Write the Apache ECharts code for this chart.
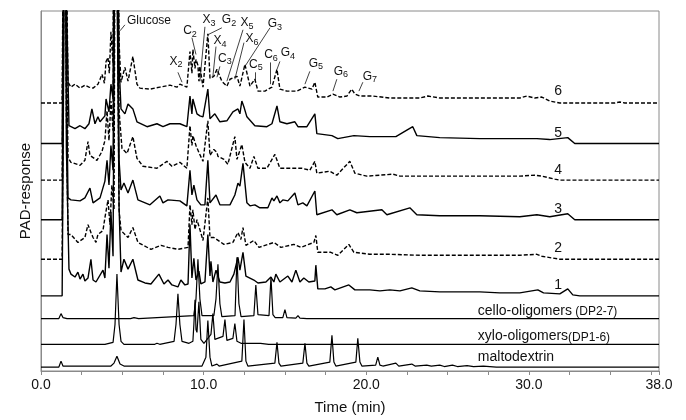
<!DOCTYPE html>
<html>
<head>
<meta charset="utf-8">
<script src="https://cdn.jsdelivr.net/npm/echarts@6/dist/echarts.min.js"></script>
<style>
  html, body { margin: 0; padding: 0; background: #fff; }
  #chart { width: 686px; height: 420px; }
</style>
</head>
<body>
<div id="chart"></div>
<script>
// [time (min), PAD response above the trace's own baseline]
const maltodextrin = [[0,0],[1.10,0],[1.23,6],[1.35,1],[4.30,1],[4.49,4],[4.67,11],[4.86,3],[5.10,1],[9.90,1],[10.14,10],[10.26,47],[10.39,10],[10.51,1],[10.82,3],[10.95,1],[12.35,6],[12.48,48],[12.60,6],[12.72,1],[14.38,4],[14.51,25],[14.63,4],[14.75,1],[16.10,4],[16.23,24],[16.35,4],[16.47,1],[17.76,5],[17.89,32],[18.01,5],[18.13,1],[19.36,5],[19.48,29],[19.61,5],[19.73,1],[20.58,2],[20.71,10],[20.84,2],[21.02,1],[21.82,4],[22.0,1],[22.80,3],[23.0,1],[23.72,2],[24.0,1],[24.52,2],[24.8,0.5],[25.3,2],[25.6,0.5],[26.2,1.5],[26.6,0.5],[27.2,1],[28,0],[38,0]];
const xyloOligomers = [[0,0],[3.75,0],[3.81,1.5],[3.93,0],[4.43,2],[4.55,20],[4.67,71],[4.80,20],[4.92,3],[5.10,0],[7.0,0],[7.13,1],[7.3,0],[8.18,3],[8.30,20],[8.42,51],[8.54,20],[8.67,3],[9.10,1],[9.16,3],[9.22,1],[9.34,3],[9.40,20],[9.47,45],[9.53,15],[9.59,12],[9.71,43],[9.83,5],[10.02,1],[10.45,10],[10.57,31],[10.69,5],[11.19,8],[11.31,25],[11.43,4],[11.80,6],[11.92,21],[12.05,3],[12.3,1],[13.5,1],[14.0,0],[38,0]];
const celloOligomers = [[0,0],[1.10,0],[1.23,5],[1.35,1],[1.6,0],[5.5,0],[5.72,1],[6.0,0],[9.40,3],[9.53,20],[9.65,60],[9.77,20],[9.90,3],[10.63,3],[10.76,20],[10.88,55],[11.00,15],[11.12,2],[11.93,3],[12.05,62],[12.17,15],[12.30,2],[13.09,3],[13.21,34],[13.34,4],[14.02,3],[14.14,42],[14.26,4],[14.40,1],[14.87,1],[15.00,9],[15.12,1],[15.67,0.5],[15.80,3],[15.92,0.5],[16.35,0],[16.41,1],[16.53,0],[38,0]];
const sample1 = [[0,0],[1.30,0],[1.40,250],[1.48,500],[1.56,150],[1.72,27],[1.84,22],[2.09,19],[2.27,24],[2.40,17],[2.58,22],[2.70,15],[2.89,18],[3.07,37],[3.20,16],[3.38,14],[3.50,16],[3.81,26],[3.93,18],[4.06,62],[4.18,28],[4.30,85],[4.43,40],[4.58,500],[4.70,500],[4.80,90],[4.92,24],[5.10,37],[5.35,27],[5.65,37],[5.96,16],[6.39,13],[6.76,12],[7.25,22],[7.56,12],[7.81,16],[8.05,11],[8.42,9],[8.60,16],[8.85,11],[9.04,12],[9.16,72],[9.28,18],[9.40,38],[9.53,16],[9.71,25],[9.83,12],[10.08,14],[10.26,62],[10.39,20],[10.45,35],[10.57,14],[10.76,26],[11.00,14],[11.31,13],[11.62,14],[11.86,22],[12.11,39],[12.23,26],[12.42,44],[12.60,20],[12.72,19],[13.09,16],[13.34,13],[13.83,14],[14.14,19],[14.32,14],[14.44,22],[14.69,14],[15.18,20],[15.43,14],[15.67,26],[15.92,14],[16.16,18],[16.47,14],[16.84,15],[16.90,31],[17.02,7],[17.46,7],[17.82,9],[18.07,6],[18.93,11],[19.30,6],[20.22,6],[20.84,5],[21.45,6],[22.07,5],[22.80,8],[23.29,5],[24.52,4],[25.75,4],[26.98,4],[28.21,3],[29.44,3],[30.55,6],[30.90,3],[31.90,2],[32.39,7],[32.70,1],[33.13,0],[38,0]];
const sample2 = [[0,0],[1.30,0],[1.40,250],[1.48,500],[1.56,150],[1.66,25],[1.84,25],[2.27,17],[2.70,22],[2.89,35],[3.07,27],[3.20,22],[3.38,17],[3.50,25],[3.81,29],[3.93,42],[4.12,60],[4.24,35],[4.36,75],[4.49,50],[4.58,500],[4.70,500],[4.80,50],[4.92,29],[5.35,22],[5.65,32],[5.96,17],[6.76,10],[7.38,14],[7.81,12],[8.42,10],[9.04,12],[9.16,55],[9.28,35],[9.34,50],[9.47,30],[9.59,40],[9.77,30],[9.96,19],[10.26,62],[10.39,22],[10.63,22],[11.25,15],[11.80,17],[12.11,27],[12.29,20],[12.42,32],[12.60,14],[13.09,19],[13.40,12],[14.32,17],[14.75,12],[15.55,15],[15.98,12],[16.78,17],[16.90,24],[17.02,7],[17.82,7],[18.25,4],[18.93,15],[19.24,7],[20.22,5],[21.45,5],[23.29,4],[26.98,4],[29.44,4],[30.49,5],[30.80,3],[31.90,0],[38,0]];
const sample3 = [[0,0],[1.30,0],[1.40,250],[1.48,500],[1.56,150],[1.66,22],[1.84,20],[2.40,19],[2.70,22],[3.01,32],[3.20,17],[3.63,22],[3.93,39],[4.06,60],[4.18,35],[4.30,75],[4.43,50],[4.58,500],[4.70,500],[4.80,60],[4.92,30],[5.10,37],[5.35,27],[5.65,40],[5.96,20],[6.70,15],[7.31,24],[7.50,17],[7.81,20],[8.54,19],[8.97,14],[9.16,50],[9.28,25],[9.40,35],[9.59,20],[9.83,15],[10.08,15],[10.26,60],[10.39,17],[10.76,25],[11.00,15],[11.62,15],[11.92,25],[12.11,37],[12.23,34],[12.42,57],[12.66,17],[12.85,14],[13.15,15],[13.46,12],[13.95,12],[14.20,22],[14.32,19],[14.51,24],[14.69,17],[14.87,20],[15.18,19],[15.61,27],[15.80,15],[16.10,17],[16.35,14],[16.84,29],[16.96,5],[17.89,10],[18.19,5],[18.99,10],[19.42,7],[20.96,10],[21.27,5],[22.68,12],[23.11,5],[24.52,4],[26.98,4],[29.44,3],[30.49,5],[31.28,3],[32.39,6],[32.82,0],[38,0]];
const sample4 = [[0,0],[1.30,0],[1.40,250],[1.48,500],[1.56,150],[1.66,23],[1.84,18],[2.40,15],[2.70,20],[2.89,39],[3.01,25],[3.44,20],[3.75,29],[3.93,40],[4.06,70],[4.18,40],[4.30,80],[4.43,50],[4.58,500],[4.70,500],[4.80,70],[4.98,32],[5.29,27],[5.65,44],[5.90,22],[6.27,14],[7.13,12],[7.74,19],[8.05,14],[8.54,18],[8.97,12],[9.16,55],[9.28,35],[9.34,45],[9.53,35],[9.71,28],[9.96,19],[10.08,18],[10.26,60],[10.39,25],[10.63,31],[10.82,28],[10.88,24],[11.25,21],[11.49,16],[11.92,44],[12.05,21],[12.35,36],[12.54,18],[12.85,12],[13.09,24],[13.34,12],[13.89,12],[14.38,26],[14.69,12],[15.30,12],[16.04,12],[16.53,10],[16.84,19],[16.96,7],[17.76,9],[18.19,5],[18.99,19],[19.30,7],[20.04,4],[21.64,6],[22.07,4],[23.72,4],[29.44,4],[30.36,5],[30.79,4],[31.60,1],[31.90,0],[38,0]];
const sample5 = [[0,0],[1.30,0],[1.40,250],[1.48,500],[1.56,150],[1.72,18],[1.84,17],[2.09,15],[2.40,18],[2.70,15],[2.95,20],[3.13,35],[3.32,20],[3.50,27],[3.63,22],[3.93,28],[4.00,45],[4.18,32],[4.30,60],[4.43,45],[4.58,500],[4.70,500],[4.80,80],[4.92,35],[5.16,30],[5.35,40],[5.65,35],[5.90,22],[6.52,17],[7.13,20],[7.50,17],[7.93,20],[8.54,20],[8.97,17],[9.16,48],[9.28,30],[9.34,45],[9.59,30],[9.77,28],[9.96,27],[10.26,55],[10.39,25],[10.69,30],[11.00,22],[11.43,23],[11.80,32],[12.11,35],[12.23,30],[12.35,43],[12.48,37],[12.66,27],[13.15,18],[13.89,17],[14.20,20],[14.51,38],[14.69,22],[15.12,20],[15.61,22],[15.80,17],[16.35,17],[16.84,30],[16.96,10],[17.89,8],[18.25,5],[19.24,8],[20.22,7],[21.82,7],[22.86,17],[23.11,8],[24.52,6],[26.98,5],[29.44,5],[30.49,5],[31.28,4],[32.39,6],[32.82,0],[38,0]];
const sample6 = [[0,0],[1.30,0],[1.40,250],[1.48,500],[1.56,150],[1.66,21],[1.84,16],[2.09,19],[2.40,15],[2.70,18],[2.95,16],[3.20,15],[3.50,19],[3.63,24],[3.75,29],[3.90,20],[4.00,42],[4.12,46],[4.20,30],[4.30,72],[4.43,40],[4.58,500],[4.70,500],[4.80,60],[4.92,21],[5.16,36],[5.35,22],[5.65,47],[5.90,19],[6.08,15],[6.70,14],[7.31,16],[7.93,18],[8.36,16],[8.54,19],[8.97,16],[9.16,52],[9.28,30],[9.34,54],[9.47,35],[9.53,44],[9.65,38],[9.71,22],[9.77,37],[9.96,16],[10.26,70],[10.39,25],[10.63,27],[10.82,34],[11.12,22],[11.43,17],[11.62,24],[12.05,27],[12.23,17],[12.54,39],[12.66,37],[12.85,17],[13.15,24],[13.34,12],[13.77,12],[14.20,16],[14.51,34],[14.69,14],[15.12,12],[15.73,12],[16.23,16],[16.66,14],[16.84,21],[17.02,6],[17.58,6],[17.95,9],[18.38,6],[18.81,7],[19.11,14],[19.30,9],[19.61,7],[20.41,7],[21.45,5],[23.29,5],[23.79,7],[24.52,5],[26.98,5],[29.44,5],[29.87,7],[30.36,5],[30.79,6],[31.28,2],[31.90,0],[35.30,0],[35.59,1],[35.90,0],[38,0]];

// vertical offset of each trace in the stack
const traceNames = ['maltodextrin', 'xylo', 'cello', '1', '2', '3', '4', '5', '6'];
const traceData = [maltodextrin, xyloOligomers, celloOligomers, sample1, sample2, sample3, sample4, sample5, sample6];
const traceOffsets = [4, 27, 53, 76, 113, 153, 193, 230, 271];
const traceDashed = [false, false, false, false, true, false, true, false, true];

// peak annotations: name, label position, leader line
const peakNames = ['Glucose', 'C2', 'X3', 'G2', 'X4', 'C3', 'X5', 'X6', 'G3', 'C5', 'C6', 'G4', 'G5', 'G6', 'G7', 'X2'];
const peakLabelAt = [[6.64,354],[9.16,344],[10.33,355],[11.56,355],[11.00,334],[11.31,316],[12.66,352],[12.97,336],[14.38,351],[13.21,310],[14.14,320],[15.18,322],[16.90,311],[18.44,303],[20.22,298],[8.30,313]];
const peakLeaders = [
  [[5.16,350],[4.86,344]], [[9.28,337],[9.53,320]], [[10.08,348],[9.77,293]], [[11.12,347],[10.26,340]],
  [[10.76,328],[10.57,298]], [[11.00,308],[10.82,297]], [[12.42,345],[11.43,293]], [[12.48,332],[11.92,295]],
  [[14.08,347],[12.54,308]], [[13.15,302],[13.15,293]], [[14.08,312],[14.08,290]], [[14.69,313],[14.51,305]],
  [[16.53,303],[16.23,290]], [[18.19,295],[17.95,283]], [[19.79,292],[19.55,283]], [[8.42,302],[8.67,292]]
];

// trace labels
const sampleLabels = ['1', '2', '3', '4', '5', '6'];
const sampleLabelAt = [[31.8,87],[31.8,124],[31.8,164],[31.8,203],[31.8,241],[31.8,283]];
const refLabels = ['{m|cello-oligomers} {p|(DP2-7)}', '{m|xylo-oligomers}{p|(DP1-6)}', '{m|maltodextrin}'];
const refLabelAt = [[26.86,62],[26.86,36],[26.86,15]];

const chart = echarts.init(document.getElementById('chart'));

const font = 'Liberation Sans, Arial, sans-serif';
const ink = '#111';

const series = traceData.map((d, i) => ({
  name: traceNames[i],
  type: 'line',
  data: d.map(p => [p[0], p[1] + traceOffsets[i]]),
  showSymbol: false,
  symbol: 'none',
  clip: true,
  silent: true,
  lineStyle: {
    color: '#000',
    width: i < 3 ? 1.2 : 1.4,
    type: traceDashed[i] ? [4, 2] : 'solid'
  },
  z: 2
}));

series.push({
  type: 'lines',
  coordinateSystem: 'cartesian2d',
  silent: true,
  data: peakLeaders.map(c => ({ coords: c })),
  lineStyle: { color: ink, width: 0.8, opacity: 1 },
  z: 3
});

const textSeries = (data, label) => ({
  type: 'scatter',
  symbolSize: 0,
  silent: true,
  itemStyle: { opacity: 1 },
  data: data,
  label: Object.assign({ show: true, color: ink, opacity: 1, fontFamily: font }, label),
  z: 4
});

series.push(textSeries(
  peakNames.map((n, i) => ({
    value: peakLabelAt[i],
    label: { formatter: n.replace(/^([A-Z])(\d)$/, '$1{s|$2}') }
  })),
  {
    position: 'inside',
    fontSize: 12,
    lineHeight: 16,
    rich: { s: { fontSize: 9, lineHeight: 9, verticalAlign: 'bottom', color: ink, fontFamily: font } }
  }
));

series.push(textSeries(
  sampleLabels.map((n, i) => ({ value: sampleLabelAt[i], label: { formatter: n } })),
  { position: 'inside', fontSize: 14 }
));

series.push(textSeries(
  refLabels.map((n, i) => ({ value: refLabelAt[i], label: { formatter: n } })),
  {
    position: 'right',
    distance: 0,
    rich: {
      m: { fontSize: 14, lineHeight: 16, verticalAlign: 'bottom', color: ink, fontFamily: font },
      p: { fontSize: 12, lineHeight: 15, verticalAlign: 'bottom', color: ink, fontFamily: font }
    }
  }
));

chart.setOption({
  animation: false,
  backgroundColor: '#fff',
  grid: { left: 41, right: 27, top: 11, bottom: 45, show: true, borderColor: '#8a8a8a', borderWidth: 1 },
  xAxis: {
    type: 'value',
    min: 0,
    max: 38,
    interval: 2.5,
    name: 'Time (min)',
    nameLocation: 'middle',
    nameGap: 29,
    nameTextStyle: { fontFamily: font, fontSize: 15, color: ink },
    axisLine: { lineStyle: { color: '#8a8a8a', width: 1 } },
    axisTick: { length: 4, lineStyle: { color: '#8a8a8a' } },
    splitLine: { show: false },
    axisLabel: {
      showMaxLabel: true,
      showMinLabel: true,
      margin: 7,
      fontFamily: font,
      fontSize: 14,
      color: ink,
      formatter: v => (v % 10 === 0 || v === 38) ? v.toFixed(1) : ''
    }
  },
  yAxis: {
    type: 'value',
    min: 0,
    max: 364,
    name: 'PAD-response',
    nameLocation: 'middle',
    nameGap: 8,
    nameTextStyle: { fontFamily: font, fontSize: 15, color: ink },
    axisLine: { show: true, lineStyle: { color: '#8a8a8a', width: 1 } },
    axisTick: { show: false },
    axisLabel: { show: false },
    splitLine: { show: false }
  },
  series: series
});
</script>
</body>
</html>
